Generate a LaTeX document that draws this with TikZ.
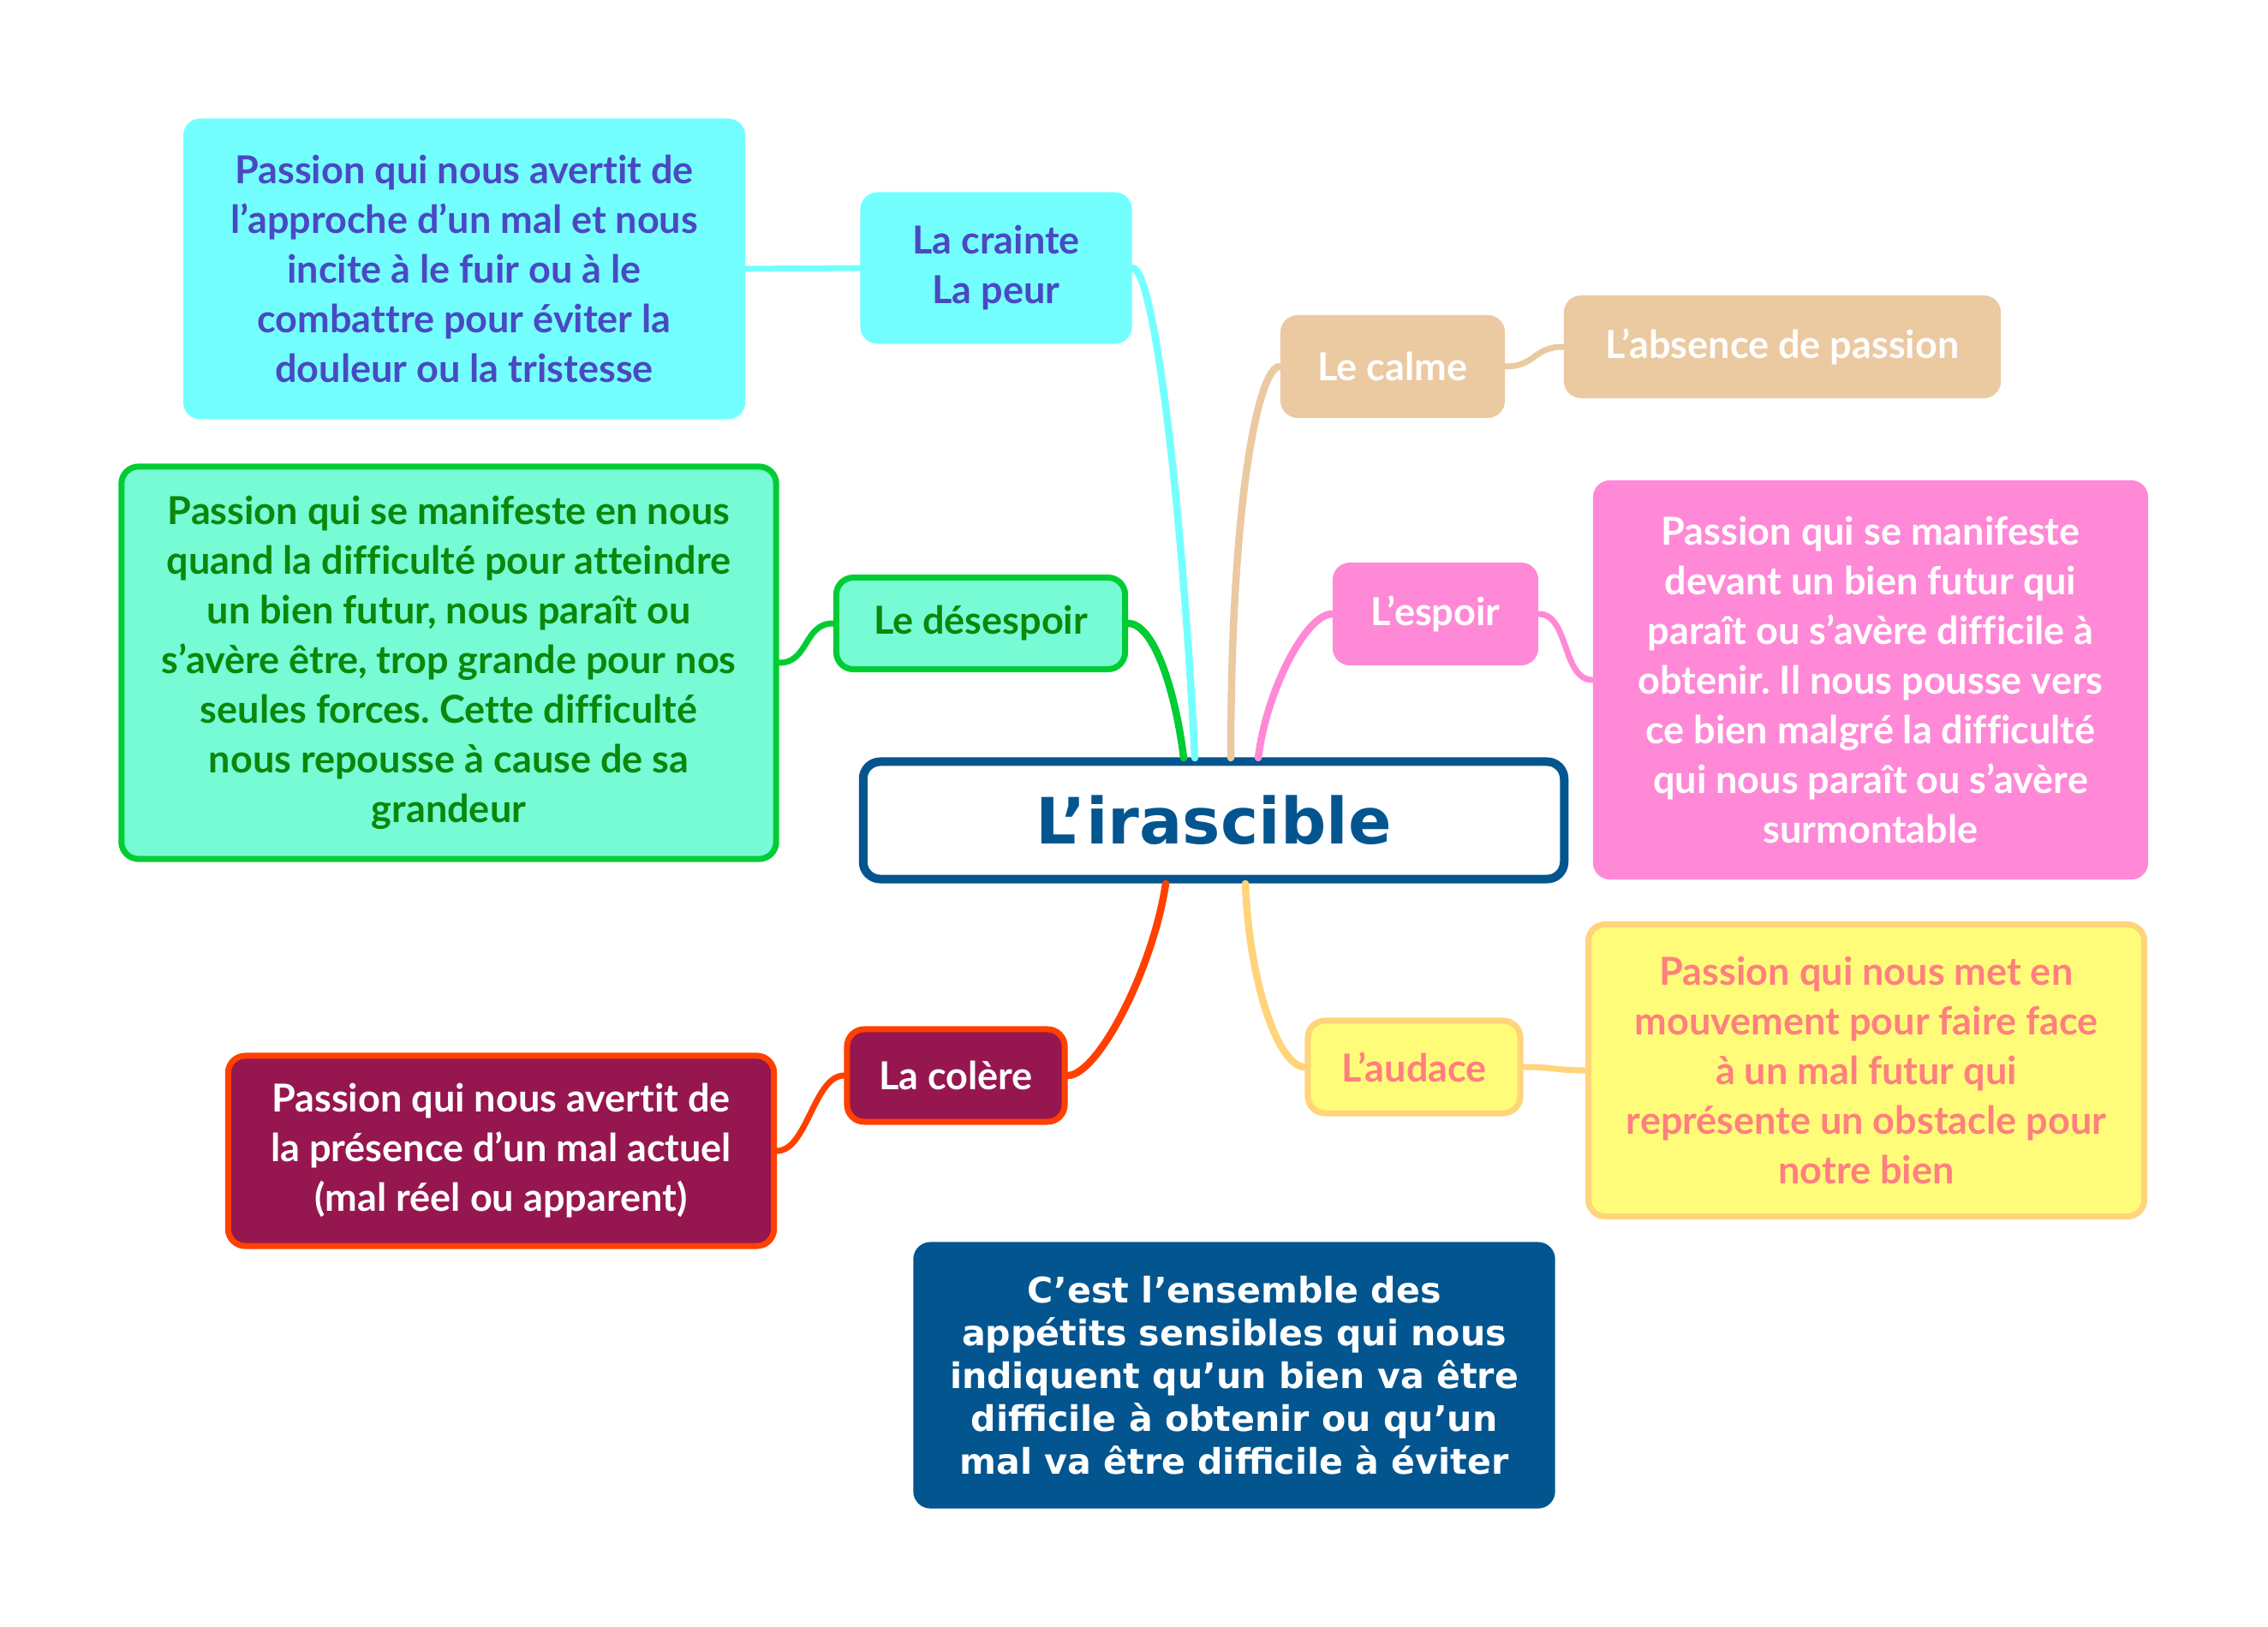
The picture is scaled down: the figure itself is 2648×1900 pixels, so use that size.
\documentclass[tikz,border=0pt]{standalone}
\usepackage{fontspec}
\newfontfamily\avfont[Ligatures=NoCommon]{Lato}
\newfontfamily\vefont{DejaVu Sans}
\frenchspacing
\definecolor{craintefill}{HTML}{74FFFF}
\definecolor{craintetext}{HTML}{4949C2}
\definecolor{despfill}{HTML}{76FBD5}
\definecolor{despline}{HTML}{00CC33}
\definecolor{desptext}{HTML}{0B870B}
\definecolor{colfill}{HTML}{96174F}
\definecolor{colline}{HTML}{FF4000}
\definecolor{calmefill}{HTML}{EBC9A1}
\definecolor{espfill}{HTML}{FF89D6}
\definecolor{audfill}{HTML}{FFFC7A}
\definecolor{audline}{HTML}{FFD47A}
\definecolor{audtext}{HTML}{FF7F7F}
\definecolor{irablue}{HTML}{03558F}
\begin{document}
\begin{tikzpicture}[x=0.01cm,y=-0.01cm,
    box/.style={rounded corners=2mm,align=center,inner sep=0pt,
      font=\avfont\bfseries\fontsize{12.8}{16.5}\selectfont},
    link/.style={line width=0.85mm,line cap=round},
    sublink/.style={line width=0.7mm,line cap=round}]
  \useasboundingbox (0,0) rectangle (2648,1900);

  \node[box,draw=irablue,line width=1mm,fill=white,text=irablue,minimum width=81.8mm,minimum height=13.7mm,
    font=\vefont\bfseries\fontsize{21.2}{24}\selectfont] (ira) at (1417,958) {L’irascible};

  \node[box,fill=craintefill,text=craintetext,minimum width=31.7mm,minimum height=17.7mm] (crainte) at (1163,313) {La crainte\\La peur};
  \node[box,fill=craintefill,text=craintetext,minimum width=65.6mm,minimum height=35.1mm] (craintedesc) at (542,314)
    {Passion qui nous avertit de\\l’approche d’un mal et nous\\incite à le fuir ou à le\\combattre pour éviter la\\douleur ou la tristesse};

  \node[box,draw=despline,line width=0.7mm,fill=despfill,text=desptext,minimum width=33.7mm,minimum height=10.7mm] (desespoir) at (1145,728) {Le désespoir};
  \node[box,draw=despline,line width=0.7mm,fill=despfill,text=desptext,minimum width=76.4mm,minimum height=45.8mm] (desespoirdesc) at (524,774)
    {Passion qui se manifeste en nous\\quand la difficulté pour atteindre\\un bien futur, nous paraît ou\\s’avère être, trop grande pour nos\\seules forces. Cette difficulté\\nous repousse à cause de sa\\grandeur};

  \node[box,draw=colline,line width=0.7mm,fill=colfill,text=white,minimum width=25.4mm,minimum height=10.8mm] (colere) at (1116,1256) {La colère};
  \node[box,draw=colline,line width=0.7mm,fill=colfill,text=white,minimum width=63.7mm,minimum height=22.2mm] (coleredesc) at (585,1344)
    {Passion qui nous avertit de\\la présence d’un mal actuel\\(mal réel ou apparent)};

  \node[box,fill=calmefill,text=white,minimum width=26.2mm,minimum height=12mm] (calme) at (1626,428) {Le calme};
  \node[box,fill=calmefill,text=white,minimum width=51mm,minimum height=12mm] (absence) at (2081,405) {L’absence de passion};

  \node[box,fill=espfill,text=white,minimum width=24mm,minimum height=12mm] (espoir) at (1676,717) {L’espoir};
  \node[box,fill=espfill,text=white,minimum width=64.8mm,minimum height=46.6mm] (espoirdesc) at (2184,794)
    {Passion qui se manifeste\\devant un bien futur qui\\paraît ou s’avère difficile à\\obtenir. Il nous pousse vers\\ce bien malgré la difficulté\\qui nous paraît ou s’avère\\surmontable};

  \node[box,draw=audline,line width=0.7mm,fill=audfill,text=audtext,minimum width=24.8mm,minimum height=10.8mm] (audace) at (1651,1246) {L’audace};
  \node[box,draw=audline,line width=0.7mm,fill=audfill,text=audtext,minimum width=64.9mm,minimum height=34.1mm] (audacedesc) at (2179,1250)
    {Passion qui nous met en\\mouvement pour faire face\\à un mal futur qui\\représente un obstacle pour\\notre bien};

  \node[box,fill=irablue,text=white,minimum width=74.9mm,minimum height=31.1mm,
    font=\vefont\bfseries\fontsize{11.7}{14.2}\selectfont] (resume) at (1441,1606)
    {C’est l’ensemble des\\appétits sensibles qui nous\\indiquent qu’un bien va être\\difficile à obtenir ou qu’un\\mal va être difficile à éviter};

  \coordinate (t1) at (1382,885);
  \coordinate (t2) at (1395,885);
  \coordinate (t3) at (1437,885);
  \coordinate (t4) at (1469,885);
  \coordinate (b1) at (1361,1032);
  \coordinate (b2) at (1454,1032);

  \draw[link,craintefill] (t2) .. controls +(-15,-300) and +(25,0) .. (crainte.east);
  \draw[link,despline] (t1) .. controls +(-10,-80) and +(30,0) .. (desespoir.east);
  \draw[link,calmefill] (t3) .. controls +(0,-300) and +(-25,0) .. (calme.west);
  \draw[link,espfill] (t4) .. controls +(10,-80) and +(-30,0) .. (espoir.west);
  \draw[link,colline] (b1) .. controls +(-15,100) and +(35,0) .. (colere.east);
  \draw[link,audline] (b2) .. controls +(5,120) and +(-30,0) .. (audace.west);

  \draw[sublink,craintefill] (crainte.west) -- (craintedesc.east);
  \draw[sublink,despline] (desespoir.west) .. controls +(-35,0) and +(35,0) .. (desespoirdesc.east);
  \draw[sublink,calmefill] (calme.east) .. controls +(35,0) and +(-35,0) .. (absence.west);
  \draw[sublink,espfill] (espoir.east) .. controls +(35,0) and +(-35,0) .. (espoirdesc.west);
  \draw[sublink,colline] (colere.west) .. controls +(-35,0) and +(35,0) .. (coleredesc.east);
  \draw[sublink,audline] (audace.east) .. controls +(35,0) and +(-35,0) .. (audacedesc.west);
\end{tikzpicture}
\end{document}
